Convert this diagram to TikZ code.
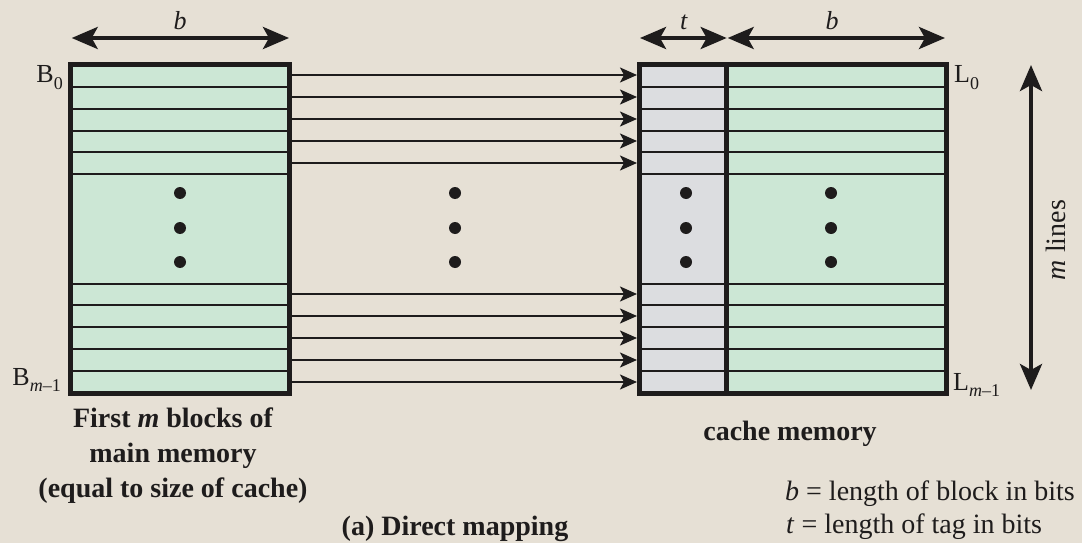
\documentclass[tikz,border=0pt]{standalone}
\usepackage{fontspec}
\setmainfont{Liberation Serif}
\usetikzlibrary{arrows.meta}
\definecolor{bg}{RGB}{230,224,213}
\definecolor{blockgreen}{RGB}{204,231,213}
\definecolor{taggray}{RGB}{220,221,224}
\definecolor{ink}{RGB}{30,28,28}
\newcommand{\lsub}[1]{\raisebox{-6pt}{\fontsize{18}{18}\selectfont #1}}
\begin{document}
\begin{tikzpicture}[x=1pt,y=-1pt,
  frame/.style={draw=ink,line width=5pt},
  rowline/.style={draw=ink,line width=2pt},
  divider/.style={draw=ink,line width=5pt},
  conn/.style={draw=ink,line width=2pt,-{Stealth[length=17pt,width=15pt,inset=4pt]}},
  dimarrow/.style={draw=ink,line width=4pt,{Stealth[length=26pt,width=22pt,inset=6pt]}-{Stealth[length=26pt,width=22pt,inset=6pt]}},
  dotmark/.style={circle,fill=ink,inner sep=0pt,minimum size=12pt},
  lbl/.style={font=\fontsize{26}{30}\selectfont,inner sep=0pt,text=ink},
  legend/.style={font=\fontsize{28}{33}\selectfont,inner sep=0pt,text=ink},
  boldlbl/.style={font=\fontsize{28}{35}\selectfont\bfseries,inner sep=0pt,align=center,text=ink}]
\fill[bg] (0,0) rectangle (1082,543);
\useasboundingbox (0,0) rectangle (1082,543);
\clip (0,0) rectangle (1082,543);

% connectors (drawn first, start hidden under the frame)
\foreach \yy [count=\i] in {75,97,119,141,163,294,316,338,360,382} {
  \coordinate (s\i) at (290,\yy);
  \coordinate (e\i) at (637,\yy);
  \draw[conn] (s\i) -- (e\i);
}

% main memory block
\fill[blockgreen] (70.5,64.5) rectangle (289.5,393.5);
\foreach \yy in {87,108.5,130.5,152,174,283.5,305,327,349,371}
  \draw[rowline] (70.5,\yy) -- (289.5,\yy);
\draw[frame] (70.5,64.5) rectangle (289.5,393.5);

% cache block
\fill[taggray] (639.5,64.5) rectangle (726.5,393.5);
\fill[blockgreen] (726.5,64.5) rectangle (946,393.5);
\foreach \yy in {87,108.5,130.5,152,174,283.5,305,327,349,371}
  \draw[rowline] (639.5,\yy) -- (946,\yy);
\draw[divider] (726.5,64.5) -- (726.5,393.5);
\draw[frame] (639.5,64.5) rectangle (946,393.5);

% dots
\foreach \xx/\nm in {180/a,455/b,686/c,831/d}
  \foreach \yy [count=\j] in {193,228,262}
    \node[dotmark] (dot\nm\j) at (\xx,\yy) {};

% dimension arrows
\coordinate (bl1) at (71.7,38);
\coordinate (bl2) at (289,38);
\draw[dimarrow] (bl1) -- (bl2);
\node[lbl,anchor=base] (blab) at (180,30) {\textit{b}};

\coordinate (tl1) at (640,38);
\coordinate (tl2) at (726.7,38);
\draw[dimarrow] (tl1) -- (tl2);
\node[lbl,anchor=base] (tlab) at (684,30) {\textit{t}};

\coordinate (br1) at (727.7,38);
\coordinate (br2) at (945,38);
\draw[dimarrow] (br1) -- (br2);
\node[lbl,anchor=base] (brlab) at (832,30) {\textit{b}};

\coordinate (ml1) at (1031,65);
\coordinate (ml2) at (1031,390);
\draw[dimarrow] (ml1) -- (ml2);
\node[legend,rotate=90] (mlines) at (1056,240) {\textit{m} lines};

% block labels
\node[lbl,anchor=base east] (B0) at (63,83) {B\lsub{0}};
\node[lbl,anchor=base east] (Bm) at (61,385) {B\lsub{\textit{m}–1}};
\node[lbl,anchor=base west] (L0) at (954,83) {L\lsub{0}};
\node[lbl,anchor=base west] (Lm) at (953,390) {L\lsub{\textit{m}–1}};

% captions
\node[boldlbl,anchor=base] (mmcap) at (173,497) {First \textit{m} blocks of\\main memory\\(equal to size of cache)};
\node[boldlbl,anchor=base] (cmcap) at (790,440) {cache memory};
\node[legend,anchor=base west] (leg1) at (785,500) {\textit{b} = length of block in bits};
\node[legend,anchor=base west] (leg2) at (786,533) {\textit{t} = length of tag in bits};
\node[boldlbl,anchor=base] (fig) at (455,535) {(a) Direct mapping};
\end{tikzpicture}
\end{document}
